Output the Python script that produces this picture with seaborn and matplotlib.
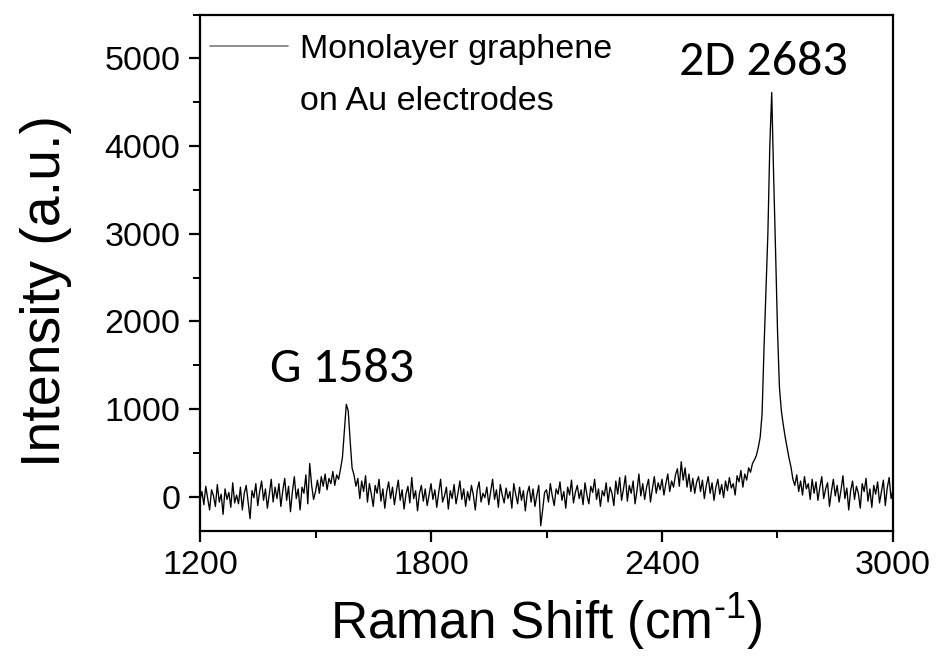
import numpy as np
import pandas as pd
import matplotlib
matplotlib.use("Agg")
import matplotlib.pyplot as plt
from matplotlib.ticker import MultipleLocator
from matplotlib import font_manager
import seaborn as sns

# ---- data ----
shift_start = 1200
shift_step = 5
intensity = [
    # 1200-1295
    -40, 60, -90, 120, -20, -150, 80, 10, -110, 140, -60, 30, -200, 90, -30, 50, -120, 160, -70, 20,
    # 1300-1395
    -80, 110, -150, 40, 130, -60, -250, 70, -10, 150, -100, 60, 180, -40, 90, -130, 30, 200, -60, 110,
    # 1400-1495
    -20, 150, -110, 70, 210, -40, 120, -170, 60, 230, -20, 90, -150, 110, 40, 250, -80, 380, 130, -30,
    # 1500-1595 (G band)
    60, 190, 40, 230, 120, 260, 80, 210, 150, 290, 130, 250, 200, 320, 450, 760, 1055, 980, 640, 330,
    # 1600-1695
    250, 120, 210, -20, 180, 60, 240, -60, 150, 30, -110, 130, 40, 200, -50, 90, -130, 60, 170, -20,
    # 1700-1795
    110, -90, 60, 190, -40, 80, -140, 30, 120, -70, 220, -20, 70, -160, 40, 130, -50, 90, -100, 20,
    # 1800-1895
    150, -30, 80, -120, 50, 200, -60, 10, 110, -140, 70, -20, 140, -80, 40, 180, -30, 90, -110, 60,
    # 1900-1995
    -40, 130, 20, -150, 80, 170, -60, 40, -10, 110, -90, 60, 200, -30, 80, -120, 140, 20, -70, 100,
    # 2000-2095
    -20, 60, -130, 150, 30, -80, 110, -40, 70, -160, 40, 120, -60, 90, -110, 20, 130, -330, -150, 50,
    # 2100-2195
    80, -60, 150, 10, -100, 90, 30, 170, -40, 60, -130, 110, 20, 190, -70, 50, 130, -20, 80, -90,
    # 2200-2295
    160, 20, -80, 120, 50, 200, -30, 90, -110, 70, 10, 160, -60, 110, 40, -100, 180, 30, 220, -40,
    # 2300-2395
    90, 240, -50, 130, 40, 180, -80, 70, 260, 10, 150, -30, 110, 200, -60, 90, 230, 40, 160, 80,
    # 2400-2495
    200, 20, 150, 260, 60, 180, 110, 250, 320, 120, 400, 190, 330, 110, 260, 60, 210, 40, 170, 230,
    # 2500-2595
    60, 190, -20, 130, 230, 40, 160, -40, 110, 200, 30, 140, -10, 180, 70, 220, 100, 150, 20, 240,
    # 2600-2695 (2D band)
    170, 300, 110, 260, 190, 330, 280, 380, 420, 470, 560, 680, 950, 1700, 2350, 3000, 4000, 4610, 3650, 2800,
    # 2700-2795
    1900, 1250, 980, 820, 680, 560, 440, 340, 200, 130, 250, 60, 180, 20, 230, 90, 150, -30, 200, 40,
    # 2800-2895
    170, -40, 110, 230, -20, 90, 160, -110, 60, 200, 10, 130, -60, 80, 240, -20, 100, -150, 70, 180,
    # 2900-3000
    -30, 120, 40, -130, 150, 60, 210, -50, 90, -120, 130, 30, 170, -70, 60, 190, -100, 100, 220, -20, 80,
]
raman_shift = shift_start + shift_step * np.arange(len(intensity))

peak_labels = ["G 1583", "2D 2683"]
peak_label_x = [1570, 2663]
peak_label_y = [1310, 4808]   # text baselines

x_ticks = [1200, 1800, 2400, 3000]
y_ticks = [0, 1000, 2000, 3000, 4000, 5000]
series_label = "Monolayer graphene"
series_label_line2 = "on Au electrodes"
legend_text_x = 1460
legend_line1_y = 5000
legend_line2_y = 4408

df = pd.DataFrame({"shift": raman_shift, "intensity": intensity})

# ---- style ----
sns.set_style("ticks")
plt.rcParams["font.family"] = ["Liberation Sans", "DejaVu Sans"]
plt.rcParams["mathtext.fontset"] = "custom"
plt.rcParams["mathtext.rm"] = "Liberation Sans"
plt.rcParams["text.color"] = "black"
plt.rcParams["axes.labelcolor"] = "black"
plt.rcParams["xtick.color"] = "black"
plt.rcParams["ytick.color"] = "black"

installed = {f.name for f in font_manager.fontManager.ttflist}
peak_font = "Carlito" if "Carlito" in installed else "Lato"

W, H = 937, 671
fig = plt.figure(figsize=(W / 100, H / 100), dpi=100)
ax = fig.add_axes([200 / W, (H - 531) / H, 693 / W, (531 - 14.5) / H])

sns.lineplot(data=df, x="shift", y="intensity", ax=ax, color="black",
             linewidth=0.95, label=series_label, estimator=None, sort=False)

ax.set_xlim(1200, 3000)
ax.set_ylim(-390, 5500)
ax.set_xticks(x_ticks)
ax.set_yticks(y_ticks)
ax.xaxis.set_minor_locator(MultipleLocator(300))
ax.yaxis.set_minor_locator(MultipleLocator(500))

for s in ax.spines.values():
    s.set_linewidth(1.6)
    s.set_color("black")
    s.set_visible(True)

ax.tick_params(axis="both", which="major", direction="out", length=8, width=1.6,
               labelsize=24.5, colors="black", pad=6)
ax.tick_params(axis="both", which="minor", direction="out", length=5, width=1.4)
ax.tick_params(top=False, right=False, which="both")

ax.set_xlabel(r"Raman Shift (cm$^{\mathregular{\text{-}1}}$)", fontsize=37, labelpad=7)
ax.set_ylabel("Intensity (a.u.)", fontsize=40)
ax.yaxis.set_label_coords(-0.184, 0.465)

psize = 36 if peak_font == "Carlito" else 34.5
for txt, xx, yy in zip(peak_labels, peak_label_x, peak_label_y):
    ax.text(xx, yy, txt, fontsize=psize, family=[peak_font, "DejaVu Sans"],
            ha="center", va="baseline", color="black")

leg_fs = 24.5
fs_px = leg_fs * 100 / 72
ax0, ay0 = 200 / W, 1 - 14.5 / H
leg = ax.legend(loc="upper left", frameon=False, fontsize=leg_fs,
                handlelength=78 / fs_px, handletextpad=12 / fs_px,
                borderaxespad=0.0, borderpad=0.0,
                bbox_to_anchor=(ax0, ay0), bbox_transform=fig.transFigure)
for h in leg.get_lines():
    h.set_color("#7a7a7a")
    h.set_linewidth(1.2)

# place the legend so its text starts and sits where the reference's does
fig.canvas.draw()
r = fig.canvas.get_renderer()
t = leg.get_texts()[0]
bb = t.get_window_extent(r)
_, _, d1 = r.get_text_width_height_descent("lp", t.get_fontproperties(), ismath=False)
_, _, d2 = r.get_text_width_height_descent(t.get_text(), t.get_fontproperties(), ismath=False)
baseline = bb.y0 + max(d1, d2)
tx, ty = ax.transData.transform((legend_text_x, legend_line1_y))
leg.set_bbox_to_anchor((ax0 + (tx - bb.x0) / W, ay0 + (ty - baseline) / H),
                       transform=fig.transFigure)

ax.text(legend_text_x, legend_line2_y, series_label_line2, fontsize=leg_fs,
        ha="left", va="baseline", color="black")

fig.savefig("out.png", dpi=100)
